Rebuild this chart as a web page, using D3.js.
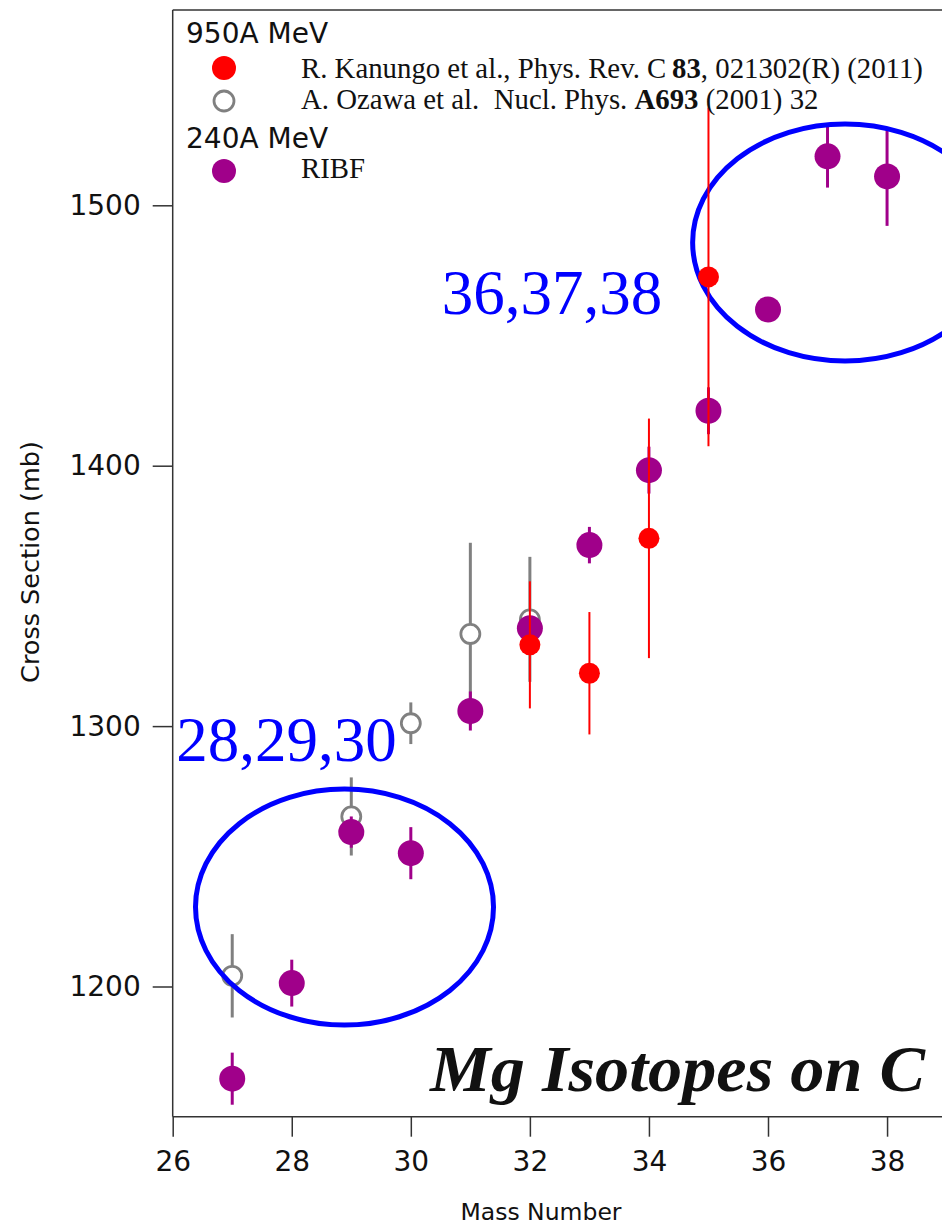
<!DOCTYPE html>
<html>
<head>
<meta charset="utf-8">
<script src="https://cdn.jsdelivr.net/npm/d3@7"></script>
<style>
  html, body { margin: 0; padding: 0; background: #fff; }
  svg { display: block; }
</style>
</head>
<body>
<svg id="chart" width="942" height="1226"></svg>
<script>
// Mg isotopes: interaction cross sections on a carbon target

// RIBF, 240A MeV
const ribfMass  = [27, 28, 29, 30, 31, 32, 33, 34, 35, 36, 37, 38];
const ribfSigma = [1164.6, 1201.3, 1259.3, 1251.2, 1305.8, 1337.6, 1369.5, 1398.3, 1421.1, 1460.0, 1518.8, 1511.1];
const ribfErr   = [10, 9, 6, 10, 7.5, 4, 7, 9, 9, 3, 12, 19];

// R. Kanungo et al., 950A MeV
const kanMass  = [32, 33, 34, 35];
const kanSigma = [1331.2, 1320.3, 1372.1, 1472.5];
const kanErr   = [24.4, 23.5, 46, 65];

// A. Ozawa et al., 950A MeV
const ozaMass  = [27, 29, 30, 31, 32];
const ozaSigma = [1204.1, 1265.3, 1301.1, 1335.4, 1341.0];
const ozaErr   = [16, 15, 8, 35, 24];

// axis ticks
const xTicks = [26, 28, 30, 32, 34, 36, 38];
const yTicks = [1200, 1300, 1400, 1500];

// highlighted groups (centre in data units, radii in data units)
const groupLabels  = ["28,29,30", "36,37,38"];
const groupLabelAt = [[26.06, 1286.6], [30.52, 1458.3]];
const ringCentre   = [[28.886, 1230.5], [37.294, 1485.7]];
const ringRadius   = [[2.503, 45.3], [2.56, 45.5]];

const svg = d3.select("#chart");

const plotLeft = 172.7, plotBottom = 1116.7, plotTop = 10;
const x = d3.scaleLinear().domain([26, 39]).range([plotLeft, plotLeft + 13 * 59.53]);
const y = d3.scaleLinear().domain([1150, 1575]).range([plotBottom, plotTop]);

const axisColor = "#333";
const sans = "'DejaVu Sans', sans-serif";
const serif = "'Liberation Serif', 'Times New Roman', serif";

// frame: top edge
svg.append("line").attr("x1", plotLeft).attr("x2", x(39)).attr("y1", plotTop).attr("y2", plotTop)
  .attr("stroke", axisColor).attr("stroke-width", 1.5);

const xAxis = d3.axisBottom(x).tickValues(xTicks).tickSize(20).tickPadding(14).tickFormat(d3.format("d"));
const gx = svg.append("g").attr("transform", `translate(0,${plotBottom})`).call(xAxis);
const yAxis = d3.axisLeft(y).tickValues(yTicks).tickSize(20).tickPadding(12).tickFormat(d3.format("d"));
const gy = svg.append("g").attr("transform", `translate(${plotLeft},0)`).call(yAxis);

[gx, gy].forEach(g => {
  g.select(".domain").attr("stroke", axisColor).attr("stroke-width", 1.5);
  g.selectAll(".tick line").attr("stroke", axisColor).attr("stroke-width", 1.5);
  g.selectAll(".tick text").attr("fill", "#111").style("font-family", sans).style("font-size", "28px");
});
gx.select(".domain").attr("d", `M${plotLeft},0H${x(39)}`);
gy.select(".domain").attr("d", `M0,${plotBottom}V${plotTop}`);

// axis titles
svg.append("text").attr("x", 541).attr("y", 1220).attr("text-anchor", "middle")
  .style("font-family", sans).style("font-size", "23.5px").attr("fill", "#111").text("Mass Number");
svg.append("text").attr("transform", "translate(39,562) rotate(-90)").attr("text-anchor", "middle")
  .style("font-family", sans).style("font-size", "25.5px").attr("fill", "#111").text("Cross Section (mb)");

// series drawing helper
function drawSeries(mass, sigma, err, opts) {
  const g = svg.append("g");
  const rows = mass.map((m, i) => ({ m, s: sigma[i], e: err[i] }));
  g.selectAll("line.err").data(rows).join("line").attr("class", "err")
    .attr("x1", d => x(d.m)).attr("x2", d => x(d.m))
    .attr("y1", d => y(d.s - d.e)).attr("y2", d => y(d.s + d.e))
    .attr("stroke", opts.bar).attr("stroke-width", opts.barWidth);
  g.selectAll("circle").data(rows).join("circle")
    .attr("cx", d => x(d.m)).attr("cy", d => y(d.s)).attr("r", opts.r)
    .attr("fill", opts.fill).attr("stroke", opts.stroke || "none").attr("stroke-width", opts.strokeWidth || 0);
  return g;
}

const gray = "#808080", red = "#ff0000", purple = "#a0008a", blue = "#0000ff";

drawSeries(ozaMass, ozaSigma, ozaErr, { bar: gray, barWidth: 3, r: 9.5, fill: "#fff", stroke: gray, strokeWidth: 2.8 });
drawSeries(ribfMass, ribfSigma, ribfErr, { bar: purple, barWidth: 3, r: 13, fill: purple });

// highlight rings
svg.append("g").selectAll("ellipse").data(ringCentre).join("ellipse")
  .attr("cx", d => x(d[0])).attr("cy", d => y(d[1]))
  .attr("rx", (d, i) => x(26 + ringRadius[i][0]) - x(26))
  .attr("ry", (d, i) => y(1200) - y(1200 + ringRadius[i][1]))
  .attr("fill", "none").attr("stroke", blue).attr("stroke-width", 5);

drawSeries(kanMass, kanSigma, kanErr, { bar: red, barWidth: 2, r: 10.5, fill: red });

svg.append("g").selectAll("text").data(groupLabels).join("text")
  .attr("x", (d, i) => x(groupLabelAt[i][0])).attr("y", (d, i) => y(groupLabelAt[i][1]))
  .style("font-family", serif).style("font-size", "63px").attr("fill", blue).text(d => d);

// title inside the plot
svg.append("text").attr("x", 430).attr("y", 1091)
  .attr("textLength", 495).attr("lengthAdjust", "spacingAndGlyphs")
  .style("font-family", serif).style("font-size", "66px").style("font-weight", "bold").style("font-style", "italic")
  .attr("fill", "#111").text("Mg Isotopes on C");

// legend
const lg = svg.append("g");
lg.append("text").attr("x", 186).attr("y", 43).style("font-family", sans).style("font-size", "28px").attr("fill", "#111").text("950A MeV");
lg.append("text").attr("x", 186).attr("y", 148).style("font-family", sans).style("font-size", "28px").attr("fill", "#111").text("240A MeV");
lg.append("circle").attr("cx", 224).attr("cy", 68).attr("r", 12).attr("fill", red);
lg.append("circle").attr("cx", 224).attr("cy", 101).attr("r", 10).attr("fill", "#fff").attr("stroke", gray).attr("stroke-width", 2.8);
lg.append("circle").attr("cx", 224).attr("cy", 171).attr("r", 12).attr("fill", purple);

const t1 = lg.append("text").attr("x", 301).attr("y", 78).style("font-family", serif).style("font-size", "28.8px").attr("fill", "#111");
t1.append("tspan").text("R. Kanungo et al., Phys. Rev. C\u2009");
t1.append("tspan").style("font-weight", "bold").text("83");
t1.append("tspan").text(", 021302(R) (2011)");

const t2 = lg.append("text").attr("x", 301).attr("y", 109).style("font-family", serif).style("font-size", "28.8px").attr("fill", "#111").attr("xml:space", "preserve");
t2.append("tspan").text("A. Ozawa et al.\u00a0 Nucl. Phys. ");
t2.append("tspan").style("font-weight", "bold").text("A693");
t2.append("tspan").text(" (2001) 32");

lg.append("text").attr("x", 301).attr("y", 178).style("font-family", serif).style("font-size", "28.8px").attr("fill", "#111").text("RIBF");
</script>
</body>
</html>
